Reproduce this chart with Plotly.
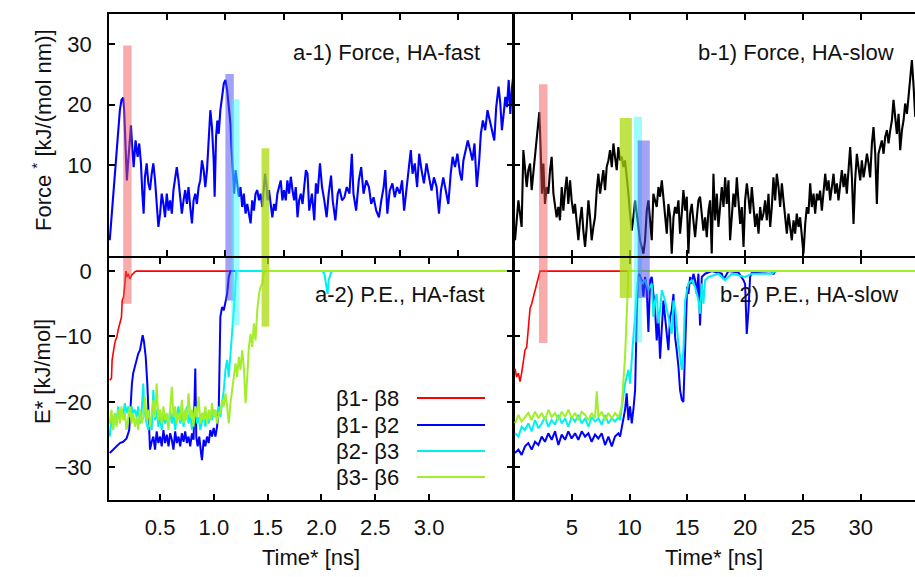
import plotly.graph_objects as go

# ---------------- DATA ----------------
# a-1) Force, HA-fast  (time in ns, force in kJ/(mol nm))
t_force_fast = [0.032,0.048,0.063,0.079,0.095,0.110,0.126,0.141,0.157,0.166,0.179,0.191,0.204,0.219,0.229,0.241,0.254,0.272,0.291,0.306,0.322,0.335,0.347,0.359,
    0.375,0.391,0.406,0.422,0.437,0.453,0.468,0.484,0.500,0.515,0.531,0.546,0.562,0.578,0.593,0.609,0.624,0.640,0.655,0.671,0.687,0.702,0.718,0.733,0.749,0.764,0.780,0.796,0.811,0.827,0.842,0.858,0.873,0.889,0.905,0.920,0.936,0.951,0.967,0.982,0.998,
    1.007,1.020,1.032,1.045,1.060,1.076,1.092,1.107,1.123,1.138,1.154,1.163,1.176,1.188,
    1.201,1.216,1.232,1.247,1.263,1.278,1.294,1.310,1.325,1.341,1.356,1.372,1.387,1.403,1.419,1.434,1.450,1.465,
    1.475,1.487,1.499,
    1.512,1.528,1.543,1.559,1.574,1.590,1.606,1.621,1.637,1.652,1.668,1.683,1.699,1.715,1.730,1.746,1.761,1.777,1.792,1.808,1.824,1.839,1.855,1.870,1.886,
    1.911,1.933,1.948,1.964,1.986,2.005,2.026,2.048,2.067,2.089,2.104,2.129,2.151,2.167,2.191,2.213,2.235,2.260,2.282,2.297,
    2.322,2.347,2.369,2.391,2.416,2.441,2.462,2.484,2.509,2.534,2.556,2.578,2.593,2.612,2.634,2.659,2.681,2.702,2.727,2.749,
    2.768,2.790,2.811,2.830,2.846,2.867,2.889,2.908,2.930,2.952,2.976,3.001,3.023,3.045,3.070,3.092,3.110,3.132,3.157,3.179,
    3.201,3.219,3.241,3.263,3.288,3.304,3.319,3.341,3.360,3.382,3.403,3.422,3.444,3.466,3.481,3.500,3.522,3.543,3.562,3.584,
    3.606,3.624,3.646,3.662,3.677,3.693,3.709,3.724,3.740,3.755,3.771,3.786,3.802]
f_force_fast = [-2.4,1.4,4.2,9.2,13.0,16.3,19.1,20.8,21.2,19.1,13.6,7.5,10.8,14.7,16.6,13.0,9.7,14.1,11.4,13.6,10.3,5.3,2.0,8.1,
    10.3,7.0,5.9,8.6,10.3,7.5,4.2,-0.2,2.0,5.3,3.6,1.4,5.3,2.5,4.2,2.0,5.9,8.1,9.7,7.5,4.2,2.0,4.2,5.9,3.6,6.4,3.1,0.4,4.2,5.3,3.6,6.4,7.5,10.8,9.2,6.4,9.2,14.1,19.1,16.3,10.8,
    4.8,14.7,17.4,15.2,19.1,21.9,23.5,24.1,22.4,19.7,16.9,13.0,8.6,5.3,
    9.2,7.0,4.8,6.4,3.1,5.3,2.0,3.6,2.0,0.4,4.2,2.5,5.3,5.9,4.2,5.3,3.1,6.4,
    8.6,7.0,4.2,
    5.9,3.1,1.4,3.6,2.5,5.3,6.4,7.5,4.2,5.9,4.2,7.5,5.3,8.1,5.9,4.2,6.4,1.4,4.2,5.3,3.6,6.4,9.2,8.6,2.5,
    5.3,0.9,7.0,5.3,10.3,6.4,4.2,1.4,5.3,8.3,4.2,0.9,5.3,6.1,4.2,4.7,6.4,5.3,11.9,5.3,
    2.5,7.5,9.7,5.3,7.5,6.4,3.6,4.7,2.5,1.4,4.2,6.4,9.2,2.0,5.8,7.0,4.7,6.4,5.3,7.5,
    2.5,6.4,10.3,12.5,8.6,10.3,6.4,11.9,9.2,7.0,10.3,7.5,5.8,8.0,6.4,2.0,5.8,8.0,5.3,3.6,
    8.6,11.4,9.7,11.9,8.6,7.5,10.8,12.5,14.1,12.5,10.8,13.6,6.4,10.8,15.2,17.4,15.8,19.1,17.4,15.8,
    14.1,19.6,23.0,20.2,15.8,18.5,21.3,19.6,24.1,18.5,23.0,25.2,22.4]

# b-1) Force, HA-slow
t_force_slow = [0.09,0.23,0.38,0.52,0.66,0.81,0.95,1.10,1.24,1.39,1.53,1.67,1.82,1.96,2.11,
    2.19,2.31,2.42,
    2.54,2.68,2.83,2.97,3.12,3.26,3.41,3.55,3.69,3.84,3.98,4.13,4.27,4.42,4.56,4.70,4.85,4.99,5.14,5.28,
    5.43,5.57,5.71,5.86,6.00,6.15,6.29,6.44,6.58,6.72,6.87,7.01,7.16,7.30,7.45,7.59,7.73,7.88,8.02,8.17,
    8.31,8.46,8.60,8.74,8.89,9.03,9.18,9.32,9.47,9.61,9.75,9.90,10.04,10.19,10.33,10.48,10.62,10.76,10.91,11.05,
    11.20,11.34,11.49,11.63,11.78,11.92,12.06,12.21,12.35,12.50,12.64,12.79,12.93,13.07,13.22,13.36,13.51,13.65,13.80,13.94,
    14.08,14.23,14.37,14.52,14.66,14.81,14.95,15.09,15.24,15.38,15.53,15.67,15.82,15.96,16.10,16.25,16.39,16.54,16.68,16.83,
    16.97,17.11,
    17.26,17.40,17.55,17.69,17.84,17.98,18.13,18.27,18.41,18.56,18.70,18.85,18.99,19.14,19.28,19.42,19.57,19.71,19.86,20.00,
    20.15,20.29,20.43,20.58,20.72,20.87,21.01,21.16,21.30,21.44,21.59,21.73,21.88,22.02,22.17,22.31,22.45,22.60,22.74,22.89,
    23.03,23.18,23.32,23.47,23.61,23.75,23.90,24.04,24.19,24.33,24.47,24.62,24.76,24.91,25.05,25.20,25.34,25.48,25.63,25.77,
    25.92,26.06,26.21,26.35,26.49,26.64,26.78,26.93,27.07,27.22,27.36,27.50,27.65,27.79,27.94,28.08,28.23,28.37,28.52,28.66,
    28.80,28.95,29.09,29.24,29.38,29.52,29.67,29.81,29.96,30.10,30.25,30.39,30.54,30.68,30.82,30.97,31.11,31.26,31.40,31.54,
    31.69,31.83,31.98,32.12,32.27,32.41,32.56,32.70,32.84,32.99,33.13,33.28,33.42,33.57,33.71,33.85,34.00,34.14,34.29,34.43,
    34.58,34.72]
f_force_slow = [-2.4,0.9,4.2,2.0,-0.2,12.5,9.7,6.4,9.2,10.3,5.9,8.6,11.9,13.6,16.3,
    18.8,12.5,5.3,
    10.3,3.6,6.4,5.3,9.2,11.4,5.3,3.6,1.4,3.1,0.9,6.4,2.5,5.9,8.1,3.6,7.5,4.2,2.0,3.6,
    0.9,-2.4,0.9,3.1,-0.8,-3.5,-0.2,4.2,1.4,-2.4,-0.2,1.4,5.9,8.6,5.3,7.5,9.2,5.9,9.7,10.8,
    12.5,9.7,13.6,11.4,9.2,13.0,10.8,11.4,9.7,10.8,8.6,5.3,2.0,-0.8,1.4,4.2,2.0,-0.2,-2.4,-3.5,
    -4.6,-2.4,2.5,4.2,1.4,-2.4,5.3,4.2,3.1,6.4,4.8,7.5,4.2,0.9,-1.3,3.6,1.4,-4.6,1.4,3.1,
    2.0,4.2,-1.3,2.0,5.9,2.5,4.8,-4.6,2.0,3.6,0.9,-1.9,1.4,4.2,4.8,2.0,-0.8,1.4,-1.9,2.5,
    4.2,-4.6,
    8.6,0.9,5.3,-0.2,3.1,6.4,3.1,8.0,3.6,7.5,-2.4,0.9,5.3,3.1,8.0,4.2,0.3,3.1,-3.5,4.2,
    7.0,4.7,2.0,6.4,3.1,-0.2,2.0,-1.3,3.1,0.9,2.0,4.2,0.9,5.3,-0.2,3.1,8.0,4.2,8.6,6.4,
    3.1,7.0,4.2,0.9,-1.3,2.0,-0.2,-2.4,0.9,-1.3,2.0,-0.2,1.4,-1.3,-4.6,0.3,3.1,2.0,7.0,3.1,
    5.3,2.0,5.3,4.2,5.8,2.5,5.3,8.6,5.8,7.5,4.2,6.4,8.6,5.3,7.0,4.2,7.5,9.2,6.4,8.6,
    5.3,9.7,13.0,8.0,0.3,7.5,11.9,9.7,7.5,10.8,8.0,9.7,11.9,10.3,8.0,13.6,16.3,11.9,3.6,11.9,
    13.0,14.1,11.9,14.7,15.8,13.6,15.8,17.4,20.8,17.4,15.2,18.5,12.5,15.8,17.4,20.2,18.5,21.3,25.2,27.4,
    23.0,18.0]

# a-2) P.E., HA-fast  (kJ/mol)
t_b18_fast = [0.032,0.048,0.054,0.063,0.073,0.085,0.098,0.110,0.126,0.141,0.148,0.160,0.173,0.182,0.191,0.204,0.219,0.235,0.250,0.266,0.282,3.80]
e_b18_fast = [-16.7,-16.4,-13.6,-12.1,-11.6,-10.6,-10.1,-9.0,-7.8,-7.0,-4.5,-4.0,-1.9,0.0,-0.9,-0.4,-1.2,-0.6,-0.4,-0.1,0.0,0.0]

t_b12_fast = [0.032,0.063,0.095,0.126,0.157,0.188,0.213,0.225,0.238,0.250,
    0.266,0.282,0.297,0.313,0.328,0.338,0.350,0.366,0.381,0.394,
    0.406,0.422,0.437,0.453,0.468,0.484,0.500,0.515,0.531,0.546,
    0.562,0.578,0.593,0.609,0.624,0.640,0.655,0.671,0.687,0.702,
    0.718,0.733,0.749,0.764,0.780,0.796,0.811,0.827,0.836,0.849,
    0.864,0.880,0.889,0.905,0.920,0.936,0.951,0.967,0.982,0.998,
    1.014,1.029,1.045,1.060,1.076,1.092,1.107,1.123,1.138,1.154,3.80]
e_b12_fast = [-27.8,-27.3,-26.8,-26.3,-26.1,-25.6,-24.3,-20.2,-17.2,-15.6,
    -14.6,-13.6,-12.6,-12.1,-10.6,-9.8,-10.8,-13.1,-17.2,-23.3,
    -27.3,-26.1,-25.3,-27.3,-24.5,-26.3,-25.3,-26.8,-24.3,-26.3,
    -25.0,-26.8,-24.8,-25.8,-27.3,-24.5,-26.3,-25.3,-26.8,-24.8,
    -26.1,-24.5,-26.3,-25.3,-26.8,-24.8,-25.8,-14.9,-25.3,-26.8,
    -25.3,-27.8,-28.9,-25.8,-26.8,-25.3,-26.3,-24.3,-25.3,-24.0,
    -25.3,-23.8,-21.2,-7.0,-5.5,-6.0,-5.0,-3.5,-0.9,0.0,0.0]

t_b23_fast = [0.032,0.048,0.063,0.079,0.095,0.110,0.126,0.141,0.157,0.172,
    0.188,0.204,0.219,0.235,0.250,0.266,0.282,0.297,0.313,0.328,
    0.344,0.353,0.375,0.391,0.406,0.422,0.437,0.453,0.468,0.484,
    0.500,0.515,0.531,0.546,0.562,0.578,0.593,0.609,0.624,0.640,
    0.655,0.671,0.687,0.702,0.718,0.733,0.749,0.764,0.780,0.796,
    0.811,0.827,0.842,0.858,0.873,0.889,0.905,0.920,0.936,0.951,
    0.967,0.982,0.998,1.014,1.029,1.045,1.060,1.076,1.092,1.107,
    1.123,1.138,1.154,1.170,1.185,1.194,1.207,
    2.010,2.026,2.041,2.057,2.066,2.082,2.094,3.80]
e_b23_fast = [-25.3,-22.3,-24.3,-21.7,-23.3,-20.7,-22.8,-21.2,-22.3,-20.2,
    -21.7,-20.7,-22.3,-20.7,-21.7,-21.2,-22.3,-20.7,-23.3,-21.7,
    -17.2,-21.2,-23.3,-24.3,-22.8,-24.3,-18.2,-22.8,-21.2,-23.8,
    -22.3,-24.3,-21.7,-23.3,-22.3,-23.8,-21.2,-23.3,-21.7,-24.3,
    -22.3,-20.7,-23.3,-21.7,-23.8,-22.3,-20.7,-23.3,-21.7,-24.3,
    -22.3,-20.7,-23.3,-22.3,-24.3,-22.8,-21.7,-23.8,-22.3,-23.3,
    -21.7,-22.8,-21.2,-22.3,-21.7,-20.7,-22.3,-20.2,-18.2,-15.1,
    -13.6,-16.2,-13.1,-9.6,-7.0,-4.0,0.0,
    0.0,-0.4,-1.9,-3.5,-1.4,-0.7,0.0,0.0]

t_b36_fast = [0.032,0.048,0.063,0.079,0.095,0.110,0.126,0.141,0.157,0.172,
    0.188,0.204,0.219,0.235,0.250,0.266,0.282,0.297,0.313,0.328,
    0.344,0.360,0.375,0.391,0.406,0.422,0.437,0.453,0.468,0.484,
    0.500,0.515,0.531,0.546,0.562,0.578,0.593,0.609,0.624,0.640,
    0.655,0.671,0.687,0.702,0.718,0.733,0.749,0.764,0.780,0.796,
    0.811,0.827,0.842,0.858,0.873,0.889,0.905,0.920,0.936,0.951,
    0.967,0.982,0.998,1.014,1.029,1.045,
    1.060,1.076,1.092,1.107,1.123,1.138,1.154,1.169,1.185,1.201,
    1.216,1.232,1.247,1.263,1.278,1.294,1.310,1.325,1.341,1.356,
    1.372,1.387,1.403,1.419,1.434,1.450,1.465,3.80]
e_b36_fast = [-23.3,-21.2,-24.3,-21.7,-23.8,-21.2,-23.3,-20.7,-22.8,-21.7,
    -24.3,-22.3,-20.7,-23.3,-21.7,-23.8,-22.3,-24.3,-21.2,-23.3,
    -22.3,-19.2,-22.8,-21.2,-23.8,-21.7,-19.7,-22.3,-17.2,-22.8,
    -21.2,-23.3,-20.7,-22.8,-21.7,-24.3,-21.2,-17.7,-22.3,-20.7,
    -23.3,-21.7,-22.8,-19.7,-23.3,-21.2,-22.8,-18.7,-22.3,-21.2,
    -23.8,-20.7,-22.3,-19.2,-23.3,-21.7,-22.8,-20.7,-23.3,-21.2,
    -22.8,-20.2,-22.3,-21.2,-23.3,-21.7,
    -21.7,-19.7,-20.7,-18.7,-20.7,-23.3,-20.2,-18.2,-16.2,-14.1,
    -16.2,-13.1,-15.1,-12.1,-14.6,-20.2,-16.2,-11.6,-9.6,-11.6,
    -8.0,-10.6,-6.0,-3.5,-2.4,-1.9,0.0,0.0]

# b-2) P.E., HA-slow
t_b18_slow = [0.09,0.23,0.38,0.52,0.66,0.81,0.95,1.10,1.24,1.39,1.53,1.67,1.82,1.96,2.11,2.25,34.75]
e_b18_slow = [-14.9,-16.2,-15.6,-16.9,-15.6,-13.6,-12.1,-11.6,-8.5,-5.7,-5.0,-4.0,-2.9,-2.2,-1.2,0.0,0.0]

t_base_slow = [0.09,0.38,0.66,0.95,1.24,1.53,1.82,2.11,2.40,2.68,
    2.97,3.26,3.55,3.84,4.13,4.42,4.70,4.99,5.28,5.57,
    5.86,6.15,6.44,6.72,7.01,7.30,7.59,7.88,8.17,8.46,8.74,9.03]

t_b12_slow = t_base_slow + [9.18,9.32,9.47,9.61,9.75,9.90,10.04,10.19,10.33,10.48,10.62,10.71,10.82,
    11.05,11.20,11.34,11.49,11.63,11.78,11.92,12.06,12.21,12.35,
    12.50,12.64,12.79,12.93,13.07,13.22,13.36,13.51,13.65,13.80,
    13.94,14.08,14.23,14.37,14.52,14.66,14.75,14.86,14.98,15.09,
    15.24,15.38,15.53,15.67,15.82,15.96,16.10,16.25,16.54,17.11,
    17.98,18.12,18.27,18.56,19.42,19.86,20.00,20.14,20.29,20.43,
    20.58,22.31,22.45,22.60,34.75]
e_b12_slow = [-27.8,-27.3,-28.1,-26.8,-26.3,-27.3,-26.1,-26.6,-25.3,-26.1,
    -24.8,-25.8,-24.5,-26.6,-25.0,-25.8,-24.5,-25.6,-24.8,-25.8,
    -24.5,-25.3,-24.8,-26.1,-25.0,-25.6,-24.8,-26.6,-25.3,-26.8,-25.3,-24.8,
    -25.3,-23.8,-22.3,-21.2,-18.7,-22.8,-20.7,-23.3,-21.2,-18.2,-7.0,-1.9,-0.4,
    -1.4,-3.9,-0.9,-2.9,-9.3,-1.4,-0.9,-3.4,-6.0,-10.6,
    -7.0,-13.4,-8.5,-4.5,-7.0,-10.1,-12.1,-7.0,-6.0,-3.5,
    -10.1,-12.1,-14.6,-18.2,-19.7,-20.0,-15.1,-7.0,-2.4,-3.5,
    -0.9,-1.9,-0.4,-1.4,-3.5,-0.4,-8.3,-0.9,-0.4,0.0,
    -0.4,-1.2,-0.9,0.0,-0.2,-1.4,-2.0,-9.6,-6.0,-0.9,
    -0.2,0.0,-0.5,0.0,0.0]

t_b23_slow = t_base_slow + [9.18,9.32,9.47,9.61,9.75,9.90,10.04,10.19,10.33,10.48,10.62,10.77,
    11.05,11.34,11.63,11.92,12.06,12.21,12.35,12.50,12.64,12.79,
    13.07,13.36,13.65,13.80,13.94,14.23,14.52,14.66,14.81,15.09,
    15.38,15.67,15.96,16.10,16.25,16.39,16.54,16.83,17.69,18.27,
    18.85,20.00,20.58,22.31,22.60,34.75]
e_b23_slow = [-24.8,-25.3,-23.8,-24.3,-23.3,-24.5,-22.8,-24.0,-23.3,-22.3,
    -23.8,-22.8,-23.5,-22.0,-23.3,-22.5,-23.8,-22.3,-23.0,-22.0,
    -23.3,-22.5,-23.8,-22.3,-23.0,-22.5,-23.5,-22.0,-23.3,-22.5,-23.0,-22.3,
    -22.8,-20.7,-19.2,-17.2,-16.2,-15.1,-17.2,-13.1,-10.1,-7.0,-2.9,-0.9,
    -1.9,-1.4,-2.9,-1.9,-7.0,-4.5,-3.5,-8.0,-6.0,-2.9,
    -4.5,-7.0,-9.6,-4.5,-5.5,-11.1,-15.1,-12.1,-4.5,-1.9,
    -1.4,-2.4,-4.5,-6.5,-1.9,-5.0,-1.4,-0.9,-0.4,-1.4,
    -0.4,-0.9,-0.4,-0.4,0.0,0.0]

t_b36_slow = [0.09,0.38,0.66,0.95,1.24,1.53,1.82,2.11,2.40,2.68,
    2.97,3.26,3.55,3.84,4.13,4.42,4.70,4.99,5.28,5.57,
    5.86,6.15,6.44,6.72,7.01,7.16,7.30,7.59,7.88,8.17,8.46,8.74,9.03,
    9.18,9.32,9.47,9.61,9.75,9.84,9.90,34.75]
e_b36_slow = [-23.3,-22.0,-23.0,-22.3,-21.7,-22.8,-21.5,-22.5,-21.7,-22.8,
    -21.2,-22.3,-21.7,-22.8,-21.5,-22.3,-21.2,-22.5,-21.7,-22.8,
    -21.5,-22.0,-22.8,-21.7,-22.5,-18.4,-22.3,-21.5,-22.8,-21.7,-22.5,-21.7,-22.3,
    -21.7,-20.7,-16.7,-13.1,-7.0,-1.9,0.0,0.0]

# rupture-event bands: (start, end, force top, energy bottom)
bands_fast = [(0.157, 0.235, 29.8, -5.0, "pink"), (1.107, 1.185, 25.1, -4.5, "purple"),
              (1.163, 1.238, 20.9, -8.3, "cyan"), (1.443, 1.515, 12.8, -8.5, "green")]
bands_slow = [(2.16, 2.90, 23.4, -11.0, "pink"), (9.15, 10.20, 17.8, -4.1, "green"),
              (10.37, 11.07, 18.0, -10.9, "cyan"), (10.70, 11.75, 14.1, -4.1, "purple")]

legend_labels = ["β1- β8", "β1- β2", "β2- β3", "β3- β6"]
fast_ticks = [0.5, 1.0, 1.5, 2.0, 2.5, 3.0]
fast_ticktext = ["0.5", "1.0", "1.5", "2.0", "2.5", "3.0"]
slow_ticks = [5, 10, 15, 20, 25, 30]

# ---------------- STYLE ----------------
W, H = 915, 577
FONT = "Liberation Sans, Arial, Helvetica, sans-serif"
FS = 22
C_RED, C_BLUE, C_CYAN, C_GREEN = "#ff0000", "#0000ff", "#00f0f0", "#a2ee2a"
BAND = {"pink": "rgba(240,80,80,0.48)", "purple": "rgba(70,70,240,0.5)",
        "cyan": "rgba(60,250,250,0.5)", "green": "rgba(171,219,11,0.75)"}

L_RANGE = [0.025, 3.78]
R_RANGE = [0.0, 34.7]
XL = [109 / W, 513 / W]
XR = [514 / W, 1.0]
YT = [1 - 256 / H, 1 - 14 / H]
YB = [1 - 500 / H, 1 - 258 / H]
F_RANGE = [-5, 35]
E_RANGE = [-35, 2]

def px(x):
    return x / W

def py(y):
    return 1 - y / H

fig = go.Figure()

def add(x, y, color, width, xa, ya):
    fig.add_trace(go.Scatter(x=x, y=y, mode="lines", line=dict(color=color, width=width),
                             xaxis=xa, yaxis=ya, showlegend=False, hoverinfo="skip"))

add(t_force_fast, f_force_fast, C_BLUE, 2.1, "x", "y")
add(t_force_slow, f_force_slow, "#000000", 2.1, "x2", "y2")
add(t_b18_fast, e_b18_fast, C_RED, 1.6, "x3", "y3")
add(t_b12_fast, e_b12_fast, C_BLUE, 2.0, "x3", "y3")
add(t_b23_fast, e_b23_fast, C_CYAN, 2.0, "x3", "y3")
add(t_b36_fast, e_b36_fast, C_GREEN, 2.0, "x3", "y3")
add(t_b18_slow, e_b18_slow, C_RED, 1.6, "x4", "y4")
add(t_b12_slow, e_b12_slow, C_BLUE, 2.0, "x4", "y4")
add(t_b23_slow, e_b23_slow, C_CYAN, 2.0, "x4", "y4")
add(t_b36_slow, e_b36_slow, C_GREEN, 2.0, "x4", "y4")

shapes = []
for (t0, t1, ftop, ebot, c) in bands_fast:
    shapes.append(dict(type="rect", xref="x", yref="y", x0=t0, x1=t1, y0=F_RANGE[0], y1=ftop,
                       fillcolor=BAND[c], line=dict(width=0), layer="above"))
    shapes.append(dict(type="rect", xref="x3", yref="y3", x0=t0, x1=t1, y0=ebot, y1=E_RANGE[1],
                       fillcolor=BAND[c], line=dict(width=0), layer="above"))
for (t0, t1, ftop, ebot, c) in bands_slow:
    shapes.append(dict(type="rect", xref="x2", yref="y2", x0=t0, x1=t1, y0=F_RANGE[0], y1=ftop,
                       fillcolor=BAND[c], line=dict(width=0), layer="above"))
    shapes.append(dict(type="rect", xref="x4", yref="y4", x0=t0, x1=t1, y0=ebot, y1=E_RANGE[1],
                       fillcolor=BAND[c], line=dict(width=0), layer="above"))

# legend (text left of line, as in the original)
leg_rows = [398, 425, 451, 477]
leg_cols = [C_RED, C_BLUE, C_CYAN, C_GREEN]
annotations = []
for lab, yy, col in zip(legend_labels, leg_rows, leg_cols):
    annotations.append(dict(text=lab, x=px(401), y=py(yy), xref="paper", yref="paper",
                            xanchor="right", yanchor="middle", showarrow=False,
                            font=dict(family=FONT, size=FS, color="#111")))
    shapes.append(dict(type="line", xref="paper", yref="paper", x0=px(417), x1=px(485),
                       y0=py(yy), y1=py(yy), line=dict(color=col, width=2)))

def label(text, x, y, anchor="right", angle=0):
    annotations.append(dict(text=text, x=px(x), y=py(y), xref="paper", yref="paper",
                            xanchor=anchor, yanchor="middle", showarrow=False, textangle=angle,
                            font=dict(family=FONT, size=FS, color="#111")))

label("a-1) Force, HA-fast", 482, 52)
label("b-1) Force, HA-slow", 896, 52)
label("a-2) P.E., HA-fast", 487, 294)
label("b-2) P.E., HA-slow", 900, 294)
label("Force <sup>*</sup> [kJ/(mol nm)]", 42, 130, anchor="center", angle=-90)
label("E* [kJ/mol]", 42, 372, anchor="center", angle=-90)
label("Time* [ns]", 311, 557, anchor="center")
label("Time* [ns]", 714, 557, anchor="center")

top_left_ticks = [L_RANGE[0] + v / R_RANGE[1] * (L_RANGE[1] - L_RANGE[0]) for v in slow_ticks]

axis_common = dict(showline=True, linecolor="black", linewidth=1.5, ticks="inside", ticklen=6,
                   tickwidth=1.5, tickcolor="black", showgrid=False, zeroline=False,
                   tickfont=dict(family=FONT, size=FS, color="#111"))

layout = dict(
    width=W, height=H, margin=dict(l=0, r=0, t=0, b=0),
    paper_bgcolor="white", plot_bgcolor="white", showlegend=False,
    font=dict(family=FONT, size=FS, color="#111"),
    xaxis=dict(axis_common, domain=XL, anchor="y", range=L_RANGE, tickvals=top_left_ticks,
               showticklabels=False, mirror="ticks"),
    xaxis2=dict(axis_common, domain=XR, anchor="y2", range=R_RANGE, tickvals=slow_ticks,
                showticklabels=False, mirror="ticks"),
    xaxis3=dict(axis_common, domain=XL, anchor="y3", range=L_RANGE, tickvals=fast_ticks,
                ticktext=fast_ticktext, mirror="ticks", ticklabelstandoff=7),
    xaxis4=dict(axis_common, domain=XR, anchor="y4", range=R_RANGE, tickvals=slow_ticks,
                mirror="ticks", ticklabelstandoff=7),
    yaxis=dict(axis_common, domain=YT, anchor="x", range=F_RANGE, tickvals=[10, 20, 30],
               mirror="ticks", ticklabelstandoff=11),
    yaxis2=dict(axis_common, domain=YT, anchor="x2", range=F_RANGE, tickvals=[10, 20, 30],
                showticklabels=False, mirror=False),
    yaxis3=dict(axis_common, domain=YB, anchor="x3", range=E_RANGE, tickvals=[0, -10, -20, -30],
                mirror="ticks", ticklabelstandoff=11),
    yaxis4=dict(axis_common, domain=YB, anchor="x4", range=E_RANGE, tickvals=[0, -10, -20, -30],
                showticklabels=False, mirror=False),
    shapes=shapes, annotations=annotations,
)
fig.update_layout(**layout)
fig.write_html("out.html")
